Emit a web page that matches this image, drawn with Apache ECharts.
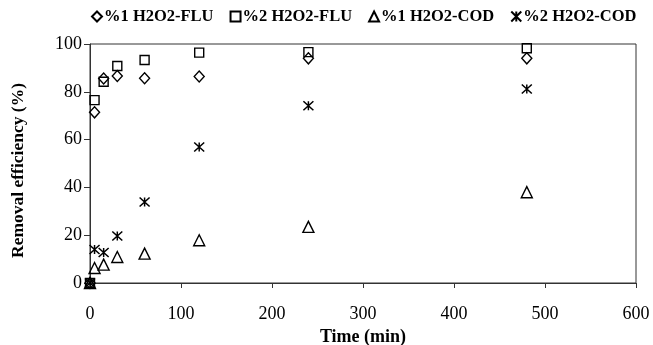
<!DOCTYPE html>
<html>
<head>
<meta charset="utf-8">
<script src="https://cdn.jsdelivr.net/npm/echarts@6/dist/echarts.min.js"></script>
<style>html,body{margin:0;padding:0;background:#fff}#c{width:653px;height:345px}</style>
</head>
<body>
<div id="c"></div>
<script>
const times = [0, 5, 15, 30, 60, 120, 240, 480];
const seriesNames = ['%1 H2O2-FLU', '%2 H2O2-FLU', '%1 H2O2-COD', '%2 H2O2-COD'];
const flu1 = [0, 71.4, 85.6, 86.6, 85.7, 86.4, 94.0, 94.0];
const flu2 = [0, 76.5, 84.2, 90.8, 93.3, 96.4, 96.6, 98.2];
const cod1 = [0, 6.3, 7.7, 10.9, 12.3, 17.9, 23.5, 38.0];
const cod2 = [0, 14.0, 12.8, 19.7, 33.9, 56.9, 74.2, 81.2];
const xTicks = [0, 100, 200, 300, 400, 500, 600];
const yTicks = [0, 20, 40, 60, 80, 100];

const FONT = '"Liberation Serif", "Times New Roman", serif';
const star = 'path://M0,0L10,10M10,0L0,10M5,0L5,10';
const symbols = ['diamond', 'rect', 'triangle', star];
const sizes = [[10, 11], 9, 11, [10, 9]];
const values = [flu1, flu2, cod1, cod2];

const series = seriesNames.map((n, i) => ({
  name: n,
  type: 'scatter',
  symbol: symbols[i],
  symbolSize: sizes[i],
  itemStyle: { color: 'rgba(0,0,0,0)', borderColor: '#000', borderWidth: 1.4, opacity: 1 },
  data: times.map((t, k) => [t, values[i][k]]),
  z: 3
}));

const chart = echarts.init(document.getElementById('c'));
chart.setOption({
  animation: false,
  backgroundColor: '#fff',
  legend: {
    top: 3, left: 86, right: 0,
    itemWidth: 10, itemHeight: 10, itemGap: 16,
    textStyle: { fontFamily: FONT, fontWeight: 'bold', fontSize: 16.5, color: '#000', padding: [0, 0, 0, -3] },
    data: seriesNames
  },
  grid: { left: 90, right: 17, top: 44, bottom: 62, containLabel: false, outerBoundsMode: 'none', show: true, borderColor: '#333', borderWidth: 1 },
  xAxis: {
    type: 'value', min: xTicks[0], max: xTicks[xTicks.length - 1], interval: 100,
    name: 'Time (min)', nameLocation: 'middle', nameGap: 41,
    nameTextStyle: { fontFamily: FONT, fontWeight: 'bold', fontSize: 18, color: '#000' },
    axisLine: { lineStyle: { color: '#333', width: 1 } },
    axisTick: { show: true, inside: false, length: 5, lineStyle: { color: '#333' } },
    axisLabel: { fontFamily: FONT, fontSize: 18, color: '#000', margin: 22 },
    splitLine: { show: false }
  },
  yAxis: {
    type: 'value', min: yTicks[0], max: yTicks[yTicks.length - 1], interval: 20,
    name: 'Removal efficiency (%)', nameLocation: 'middle', nameGap: 63,
    nameTextStyle: { fontFamily: FONT, fontWeight: 'bold', fontSize: 17.5, color: '#000', padding: [0, 14, 0, 0] },
    axisLine: { lineStyle: { color: '#333', width: 1 } },
    axisTick: { show: true, inside: false, length: 6, lineStyle: { color: '#333' } },
    axisLabel: { fontFamily: FONT, fontSize: 18, color: '#000', margin: 8 },
    splitLine: { show: false }
  },
  series: series
});
</script>
</body>
</html>
